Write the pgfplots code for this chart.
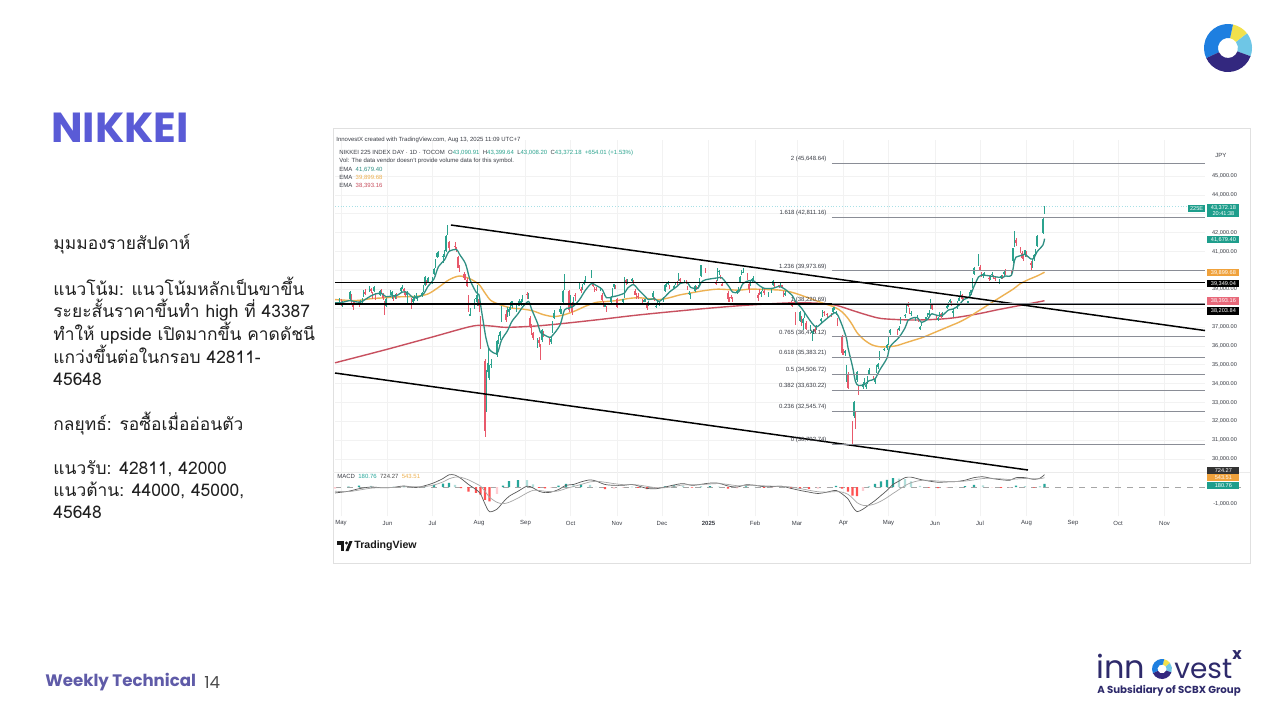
\documentclass[border=0pt]{standalone}
\usepackage{pgfplots}
\pgfplotsset{compat=1.18}
\usepackage{pgfplotstable}
\usepackage{fontspec}
\setmainfont{Liberation Sans}
\newfontfamily\thaifont[Script=Thai]{Loma}
\newfontfamily\pop{Poppins}
\definecolor{upc}{HTML}{2BA38E}
\definecolor{dnc}{HTML}{E8596B}
\definecolor{emag}{HTML}{2F8F83}
\definecolor{emao}{HTML}{EDB152}
\definecolor{emar}{HTML}{C8505F}
\definecolor{fibc}{HTML}{8A8D96}
\definecolor{txtc}{HTML}{3A3D45}
\definecolor{nik}{HTML}{5A5BD6}
\definecolor{wk}{HTML}{5F5BA8}
\definecolor{navy}{HTML}{2E2A6B}
\definecolor{lblue}{HTML}{1E7FE0}
\definecolor{lyel}{HTML}{F2E14C}
\definecolor{lcyan}{HTML}{6EC6E6}
\definecolor{lnavy}{HTML}{33287F}
\definecolor{hA}{HTML}{26A69A}
\definecolor{hB}{HTML}{B2DFDB}
\definecolor{hC}{HTML}{FF5252}
\definecolor{hD}{HTML}{FFCDD2}
\definecolor{lastc}{HTML}{A8E0E6}
\definecolor{boxr}{HTML}{E8697A}
\definecolor{boxo}{HTML}{F0A23C}
\definecolor{boxt}{HTML}{1E9E8C}
\newcommand{\sm}{\fontsize{3}{3.6}\selectfont}

\pgfplotstableread{
d o h l c
-1 38300 38550 38250 38400
0 38300 38500 38100 38270
1 38200 38400 38050 38240
6 38500 38900 38450 38840
7 38700 38750 38150 38200
8 38250 38300 37900 38070
9 38250 38400 38150 38230
12 38300 38350 38050 38180
13 38200 38450 38150 38360
14 38350 38550 38250 38390
15 38650 38950 38600 38920
16 38850 39000 38700 38790
19 38900 39150 38850 39070
20 39000 39050 38800 38950
21 38800 38850 38500 38620
22 38900 39150 38850 39100
23 38750 38800 38450 38650
26 38700 38950 38650 38900
27 38900 39000 38750 38860
28 38750 38800 38450 38560
29 38300 38350 37620 38050
30 38100 38550 38050 38490
33 38800 38950 38700 38920
34 38700 38900 38500 38840
35 38600 38650 38400 38490
36 38600 38750 38500 38700
37 38700 38800 38500 38680
40 38900 39100 38800 39040
41 39100 39250 39000 39130
42 39000 39050 38700 38880
43 38800 38900 38600 38720
44 38700 38900 38250 38810
47 38500 38550 37960 38100
48 38300 38550 38200 38480
49 38500 38700 38400 38570
50 38600 38800 38500 38630
51 38500 38650 38400 38600
54 38700 38850 38600 38800
55 38900 39200 38850 39170
56 39200 39700 39150 39670
57 39400 39500 39200 39340
58 39400 39650 39350 39580
61 39500 39650 39300 39630
62 39800 40100 39750 40070
63 40200 40600 40150 40580
64 40700 40950 40650 40910
65 40900 41000 40700 40910
68 40700 40850 40400 40780
69 40800 41100 40700 40830
70 41000 41850 40950 41830
71 41900 42430 41850 42220
72 41500 41550 41000 41190
76 41300 41500 41150 41280
77 41200 41250 40950 41100
78 40700 40750 40100 40130
79 40200 40300 39900 40060
82 39800 39900 39500 39600
83 39700 39800 39500 39590
84 39500 39600 39100 39150
85 38600 38700 37800 37870
86 37600 38000 37600 37670
89 38000 38500 37950 38470
90 38500 38700 38300 38530
91 38200 39200 38100 39100
92 38500 38600 37800 38130
93 37500 37600 35850 35910
96 35200 35300 31160 31460
97 32800 34700 32500 34680
98 34600 35900 34300 35090
99 34600 35000 34200 34830
100 35000 35300 34800 35030
104 35500 36300 35400 36230
105 36300 36600 36100 36440
106 36500 36800 36300 36730
107 37300 38100 37250 38060
110 37700 37900 37250 37390
111 37600 38050 37550 37960
112 37800 38050 37600 37950
113 38000 38300 37900 38210
114 38100 38400 38000 38360
117 37900 38150 37800 38110
118 38200 38400 38100 38290
119 38300 38500 38100 38370
120 38200 38500 38100 38360
121 38400 38700 38300 38650
124 38750 38850 38500 38700
125 38600 38800 38500 38690
126 37500 37600 36950 37050
127 37000 37150 36600 36660
128 36700 36750 36300 36390
131 36000 36400 35900 36220
132 36300 36450 35950 36160
133 36000 36100 35250 35620
134 36300 36900 36200 36830
135 36700 36800 36450 36580
139 36300 36400 36050 36200
140 36200 36500 36100 36380
141 36800 37300 36700 37160
142 37500 37900 37400 37720
146 37800 38100 37700 37940
147 37800 37950 37700 37870
148 38300 38950 38250 38930
149 39000 39830 38950 39830
152 38900 38950 37800 37920
153 38100 38700 38000 38650
154 38200 38300 37650 37810
155 38200 38600 38100 38550
156 38700 38800 38400 38640
159 39100 39400 39000 39330
160 39000 39100 38800 38940
161 39000 39300 38950 39280
162 39300 39500 39200 39380
163 39500 39700 39400 39610
167 39700 40000 39600 39910
168 39300 39400 39100 39180
169 39000 39100 38850 38910
170 39000 39100 38900 38980
173 38950 39100 38900 38950
174 38700 38800 38350 38410
175 38300 38400 38050 38100
176 38100 38200 38050 38140
177 38000 38100 37800 37910
180 38300 38650 38200 38610
181 38700 39050 38600 39030
182 39100 39300 39000 39280
183 39200 39250 39000 39080
184 38500 38550 38000 38050
188 38300 38500 38200 38470
189 38600 39650 38550 39480
190 39500 39550 39200 39380
191 39400 39550 39300 39500
194 39500 39600 39400 39530
195 39400 39500 39300 39380
196 38900 39000 38700 38720
197 38700 38800 38500 38540
198 38650 38800 38500 38640
201 38400 38500 38200 38220
202 38350 38500 38300 38410
203 38350 38500 38300 38350
204 38200 38300 37900 38030
205 38200 38350 38100 38280
208 38600 38900 38500 38780
209 38500 38600 38400 38440
210 38100 38250 38000 38130
211 38300 38400 38200 38350
212 38200 38300 38100 38210
215 38400 38600 38300 38510
216 38900 39300 38850 39250
217 39200 39350 39100 39280
218 39300 39450 39250 39400
219 39200 39250 39000 39090
222 39100 39200 39000 39160
223 39300 39400 39200 39370
224 39400 39450 39250 39370
225 39500 39850 39450 39850
226 39550 39600 39400 39470
229 39400 39500 39350 39460
230 39400 39500 39300 39360
231 39100 39150 38950 39080
232 38800 38900 38700 38810
233 38600 38800 38500 38700
236 38900 39200 38850 39160
237 39100 39150 38950 39040
238 39100 39200 39050 39130
239 39300 39600 39250 39570
240 39700 40300 39650 40280
243 40100 40150 39850 39890
250 39400 39500 39250 39310
251 39500 40100 39450 40080
252 39900 40000 39750 39980
253 39700 39750 39550 39610
254 39300 39400 39150 39190
258 38800 38900 38300 38470
259 38500 38600 38300 38440
260 38600 38700 38500 38570
261 38500 38600 38300 38450
264 38800 38950 38750 38900
265 39000 39100 38900 39030
266 39400 39700 39350 39650
267 39800 40000 39750 39960
268 39900 40150 39850 39930
271 39800 39850 39500 39570
272 39300 39400 38800 39020
273 39200 39450 39150 39410
274 39500 39600 39400 39510
275 39500 39700 39450 39570
278 38700 38800 38400 38520
279 38900 39000 38700 38800
280 38750 38900 38600 38830
281 39000 39100 38900 39070
282 38900 39000 38700 38790
285 38700 38850 38600 38800
287 38900 39050 38800 38960
288 39200 39500 39150 39460
289 39300 39400 39100 39150
292 39200 39250 39050 39170
293 39200 39350 39150 39270
294 39200 39250 39100 39160
295 38800 38900 38600 38680
296 38700 38900 38650 38780
300 38300 38400 38100 38240
301 38200 38300 38050 38140
302 38300 38400 38150 38260
303 37700 37800 37100 37160
306 37300 37850 37250 37790
307 37500 37600 37050 37330
308 37200 37500 36850 37420
309 37600 37800 37500 37700
310 37200 37300 36850 36890
313 37000 37100 36800 37030
314 36700 36800 36250 36790
315 36800 36900 36650 36820
316 36900 37000 36700 36790
317 36900 37100 36850 37050
320 37300 37450 37200 37400
321 37600 37900 37550 37850
322 37800 37850 37600 37750
324 37700 37750 37500 37680
327 37700 37750 37550 37610
328 37800 38050 37750 38030
329 37950 38050 37900 38030
330 37800 37850 37650 37800
331 37400 37450 37050 37120
334 36500 36550 35520 35620
335 35700 35850 35500 35620
336 35600 35800 35450 35730
337 34700 35000 34100 34740
338 34500 34600 33700 33780
341 31800 32000 30790 31140
342 32300 33100 32200 33010
343 32200 32550 31600 31710
344 34200 34650 34100 34610
345 33700 33900 33400 33590
348 33800 34100 33700 33980
349 34100 34300 33900 34270
350 33800 34000 33700 33920
351 34200 34400 34000 34380
352 34500 34800 34450 34730
355 34300 34400 34200 34280
356 34100 34300 34000 34220
357 34600 35000 34550 34870
358 34900 35100 34750 35040
359 35300 35750 35250 35710
362 35800 35900 35700 35840
364 35900 36100 35800 36050
365 36100 36500 36050 36450
366 36700 36900 36600 36830
371 36800 36900 36600 36780
372 36900 37050 36800 36930
373 37200 37550 37150 37500
376 37600 37700 37500 37640
377 37800 38250 37750 38180
378 38200 38300 38050 38130
379 37900 38000 37700 37750
380 37750 37850 37600 37750
383 37400 37550 37300 37500
384 37500 37650 37450 37530
385 37400 37450 37250 37300
386 36900 37050 36850 36990
387 37100 37250 37050 37160
390 37400 37550 37350 37530
391 37600 37750 37550 37720
392 37700 37900 37600 37720
393 38000 38500 37950 38430
394 38200 38250 37900 37970
397 37600 37650 37400 37470
398 37400 37550 37300 37450
399 37600 37800 37550 37750
400 37700 37750 37500 37550
401 37600 37800 37550 37740
404 38000 38150 37950 38090
405 38100 38300 38050 38210
406 38300 38500 38250 38420
407 38300 38350 38100 38170
408 37800 37950 37550 37830
411 38000 38350 37950 38310
412 38400 38600 38350 38540
413 38700 38900 38600 38890
414 38700 38750 38450 38490
415 38500 38550 38350 38400
418 38300 38400 38200 38350
419 38600 38850 38550 38790
420 38800 38950 38700 38940
421 39100 39600 39050 39580
422 39800 40200 39750 40150
425 40300 40850 40250 40490
426 40200 40300 39950 39990
427 39800 39900 39650 39760
428 39700 39850 39600 39790
429 39800 39900 39700 39810
432 39600 39700 39450 39590
433 39600 39750 39500 39690
434 39800 39900 39700 39820
435 39700 39750 39550 39650
436 39600 39700 39450 39570
439 39400 39550 39300 39460
440 39600 39750 39550 39680
441 39700 39750 39550 39660
442 39800 39950 39700 39900
443 39900 40050 39750 39820
447 39900 40000 39700 39770
448 40500 41200 40400 41170
449 41300 42070 41250 41830
450 41600 41700 41300 41460
453 41200 41250 40900 41000
454 40900 41000 40600 40670
455 40700 40800 40500 40650
456 40800 41100 40700 41070
457 40900 41000 40700 40800
460 40400 40500 40000 40290
461 40300 40600 40150 40550
462 40600 40850 40500 40790
463 40900 41150 40850 41060
464 41300 41850 41250 41820
468 42000 42750 41950 42720
469 43090 43400 43010 43370
}\candles

\pgfplotstableread{
d v
-4 38280
0 38290
6 38400
9 38350
13 38310
16 38450
20 38650
23 38750
27 38780
30 38600
34 38650
37 38660
41 38850
44 38830
48 38560
51 38570
55 38750
58 39150
62 39550
65 40200
69 40550
72 41000
77 41100
79 40850
83 40350
86 39500
90 38850
92 38700
93 38200
96 36700
97 36300
99 35800
104 35600
107 36300
111 36800
114 37300
118 37700
121 38050
125 38350
127 37950
131 37200
133 36700
135 36600
139 36450
141 36550
146 37100
149 37900
152 38000
155 38100
159 38450
163 38950
167 39300
170 39200
174 39000
177 38550
181 38600
184 38650
189 38800
191 39050
195 39250
198 39000
203 38600
205 38450
209 38500
212 38350
216 38600
219 38850
224 39150
226 39300
231 39350
233 39100
238 39050
240 39350
243 39500
251 39600
254 39600
259 39100
261 38850
265 38850
268 39300
272 39450
275 39450
278 39250
282 39050
288 39050
292 39150
296 39000
301 38650
303 38350
307 38000
310 37650
314 37200
317 37000
321 37250
324 37450
329 37750
331 37650
334 37100
337 36400
338 35900
341 34900
343 34100
345 33900
349 33950
352 34150
356 34250
359 34700
364 35350
366 35950
372 36450
376 36950
378 37350
380 37450
384 37500
387 37250
391 37400
393 37650
394 37700
398 37600
401 37620
405 37900
408 37950
412 38150
415 38450
419 38600
422 39150
425 39650
427 39750
432 39710
436 39660
441 39620
443 39700
447 39750
449 40530
450 40700
454 40800
456 40850
460 40600
462 40650
464 40980
468 41350
469 41680
}\emagreen

\pgfplotstableread{
d v
-4 38450
10 38400
20 38500
30 38550
40 38600
50 38620
58 38750
65 39100
72 39500
79 39700
86 39550
92 39250
96 38800
100 38400
107 38150
114 38000
121 37950
128 37850
135 37650
142 37550
149 37650
156 37850
163 38100
170 38300
177 38350
184 38400
191 38500
198 38550
205 38500
212 38450
219 38550
226 38700
233 38800
240 38900
250 39000
258 38980
265 38950
272 39000
278 39000
285 38980
293 38950
300 38850
306 38700
313 38500
320 38300
329 38050
334 37800
338 37450
341 37100
344 36700
349 36300
354 36050
359 35950
364 35950
370 36000
376 36150
382 36300
388 36450
394 36650
400 36850
406 37050
412 37250
418 37500
424 37800
430 38100
436 38400
442 38700
448 39000
453 39300
458 39500
464 39700
469 39900
}\emaorange

\pgfplotstableread{
d v
-4 35100
30 35800
61 36470
88 37050
100 37050
110 36980
130 37050
150 37200
173 37400
200 37650
239 37950
270 38150
301 38280
320 38250
330 38150
340 37900
350 37650
360 37450
375 37380
386 37370
400 37420
410 37500
425 37700
437 37900
450 38100
460 38250
469 38390
}\emared

\pgfplotstableread{
d m s
-4 -350 -250
5 -250 -270
12 -100 -180
20 0 -70
28 -50 -30
35 -20 -30
42 60 20
50 -30 10
56 80 30
62 250 120
68 500 300
72 720 480
76 700 580
80 500 570
85 150 420
90 -150 200
93 -400 50
96 -1000 -250
99 -1450 -600
104 -1300 -900
108 -900 -980
112 -550 -900
118 -250 -650
124 50 -350
128 -50 -200
132 -250 -200
136 -330 -250
140 -300 -270
145 -150 -230
150 100 -90
155 150 30
160 300 150
166 420 300
170 350 340
176 150 280
182 100 200
188 100 140
194 150 140
198 70 120
204 -80 40
210 -100 -40
216 0 -40
222 120 30
228 200 120
234 100 130
240 160 140
246 230 180
252 220 200
258 60 150
264 0 80
270 130 90
276 100 100
282 20 70
288 30 50
294 40 40
300 -80 0
306 -200 -90
312 -300 -190
318 -380 -280
324 -300 -300
330 -200 -270
334 -400 -300
338 -700 -430
341 -1150 -650
344 -1450 -920
348 -1300 -1080
352 -1050 -1080
356 -800 -990
360 -500 -830
364 -200 -620
368 150 -380
372 350 -150
376 550 80
380 580 250
386 450 380
392 350 390
398 280 350
404 300 330
410 320 320
416 400 350
422 550 420
428 600 500
434 500 510
440 430 480
446 400 440
450 550 470
456 550 500
462 450 480
466 520 490
469 724 544
}\macd

\pgfplotstableread{
d v k
-4 -100 3
5 20 0
12 80 0
20 70 1
28 -20 2
35 10 0
42 40 0
50 -40 2
56 50 0
62 130 0
68 200 0
72 240 0
76 120 1
80 -70 2
85 -270 2
90 -350 2
93 -450 2
96 -750 2
99 -850 2
104 -400 3
108 80 0
112 350 0
118 400 0
124 400 1
128 150 1
132 -50 2
136 -80 2
140 -30 3
145 80 0
150 190 0
155 120 1
160 150 0
166 120 1
170 10 1
176 -130 2
182 -100 3
188 -40 3
194 10 0
198 -50 2
204 -120 2
210 -60 3
216 40 0
222 90 0
228 80 1
234 -30 2
240 20 0
246 50 0
252 20 1
258 -90 2
264 -80 3
270 40 0
276 5 1
282 -50 2
288 -20 3
294 5 1
300 -80 2
306 -110 2
312 -110 2
318 -100 3
324 -10 3
330 70 0
334 -100 2
338 -270 2
341 -500 2
344 -530 2
348 -220 3
352 30 0
356 190 0
360 330 0
364 420 0
368 530 0
372 500 1
376 470 1
380 330 1
386 70 1
392 -40 2
398 -70 2
404 -30 3
410 5 1
416 50 0
422 130 0
428 100 1
434 -10 2
440 -50 2
446 -40 3
450 80 0
456 50 1
462 -30 2
466 30 0
469 180 0
}\hist

\tikzset{vbox/.style={anchor=west, minimum width=16pt, minimum height=3.6pt, inner sep=0pt, font=\fontsize{2.8}{3}\selectfont, text=white}}

\begin{document}
\begin{tikzpicture}[x=0.5pt,y=-0.5pt]
\fill[white] (0,0) rectangle (1280,720);
\useasboundingbox (0,0) rectangle (1280,720);

% ---- left slide text ----
\node[anchor=west, inner sep=0pt, text=nik, font=\pop\bfseries\fontsize{21}{24}\selectfont] at (51,128) {NIKKEI};
\begin{scope}[every node/.style={anchor=base west, inner sep=0pt, text={black!88}, font=\thaifont\fontsize{8.7}{10}\selectfont}]
\node at (53,249) {มุมมองรายสัปดาห์};
\node at (53,295) {แนวโน้ม: แนวโน้มหลักเป็นขาขึ้น};
\node at (53,317) {ระยะสั้นราคาขึ้นทำ high ที่ 43387};
\node at (53,340) {ทำให้ upside เปิดมากขึ้น คาดดัชนี};
\node at (53,363) {แกว่งขึ้นต่อในกรอบ 42811-};
\node at (53,385) {45648};
\node at (53,430) {กลยุทธ์: รอซื้อเมื่ออ่อนตัว};
\node at (53,474) {แนวรับ: 42811, 42000};
\node at (53,496) {แนวต้าน: 44000, 45000,};
\node at (53,518) {45648};
\end{scope}

\node[anchor=west, inner sep=0pt, text=wk, font=\pop\bfseries\fontsize{8.3}{10}\selectfont] at (45,682) {Weekly Technical};
\node[anchor=west, inner sep=0pt, text=black!70, font=\pop\fontsize{8.3}{10}\selectfont] at (204,682) {14};

% top-right donut logo
\foreach \a/\b/\col in {-38/20/lcyan, -78/-38/lyel, -205/-78/lblue, 20/155/lnavy}{
  \fill[\col] ([shift={(1228,48)}]\a:24) arc[start angle=\a, end angle=\b, radius=24] -- ([shift={(1228,48)}]\b:10) arc[start angle=\b, end angle=\a, radius=10] -- cycle;
}

% innovestX logo
\node[anchor=base west, inner sep=0pt, text=navy, font=\pop\fontsize{16}{18}\selectfont] at (1096,678) {inn};
\foreach \a/\b/\col in {-38/20/lcyan, -78/-38/lyel, -205/-78/lblue, 20/155/lnavy}{
  \fill[\col] ([shift={(1162,669)}]\a:10) arc[start angle=\a, end angle=\b, radius=10] -- ([shift={(1162,669)}]\b:4.5) arc[start angle=\b, end angle=\a, radius=4.5] -- cycle;
}
\node[anchor=base west, inner sep=0pt, text=navy, font=\pop\fontsize{14}{18}\selectfont] at (1174,678) {vest};
\node[anchor=base west, inner sep=0pt, text=navy, font=\pop\bfseries\fontsize{8}{10}\selectfont] at (1232,659) {x};
\node[anchor=west, inner sep=0pt, text=navy, font=\pop\bfseries\fontsize{5.1}{6}\selectfont] at (1097,691) {A Subsidiary of SCBX Group};

% ---- chart panel ----
\draw[black!12, line width=0.5pt] (333,128) rectangle (1250,563);
\draw[black!8, line width=0.4pt] (333,472) -- (1250,472);

\begin{axis}[
  at={(167.5pt,-236pt)}, anchor=south west, scale only axis,
  width=435pt, height=166pt,
  xmin=-4, xmax=576, ymin=29312, ymax=46908,
  axis line style={draw=none}, major tick length=0pt,
  xtick={0,31,61,92,123,153,184,214,245,276,304,335,365,396,426,457,488,518,549},
  xticklabels={},
  ytick={30000,31000,32000,33000,34000,35000,36000,37000,39000,41000,42000,44000,45000},
  extra y ticks={38000,40000,43000}, extra y tick labels={},
  extra y tick style={grid=major, major tick length=0pt},
  scaled y ticks=false,
  grid=major, grid style={black!5, line width=0.3pt},
  yticklabel pos=right,
  yticklabel style={anchor=east, xshift=19.5pt, font=\fontsize{2.8}{3}\selectfont, text=txtc,
    /pgf/number format/.cd, fixed, fixed zerofill, precision=2, 1000 sep={,}, assume math mode=true},
  clip=false,
]
% last price line
\addplot[lastc, densely dotted, line width=0.4pt, forget plot] coordinates {(-4,43372.18) (576,43372.18)};
% EMAs
\addplot[emar, line width=0.7pt, smooth, forget plot] table[x=d, y=v] \emared;
\addplot[emao, line width=0.7pt, smooth, forget plot] table[x=d, y=v] \emaorange;
% candles: wicks and bodies
\addplot[draw=none, mark=none, forget plot, error bars/.cd, y dir=both, y explicit, error mark=none, error bar style={draw=upc, line width=0.3pt}]
  table[x=d, y expr={\thisrow{c}>=\thisrow{o} ? 0.5*(\thisrow{h}+\thisrow{l}) : nan}, y error expr={0.5*(\thisrow{h}-\thisrow{l})}] \candles;
\addplot[draw=none, mark=none, forget plot, error bars/.cd, y dir=both, y explicit, error mark=none, error bar style={draw=dnc, line width=0.3pt}]
  table[x=d, y expr={\thisrow{c}<\thisrow{o} ? 0.5*(\thisrow{h}+\thisrow{l}) : nan}, y error expr={0.5*(\thisrow{h}-\thisrow{l})}] \candles;
\addplot[draw=none, mark=none, forget plot, error bars/.cd, y dir=both, y explicit, error mark=none, error bar style={draw=upc, line width=0.65pt}]
  table[x=d, y expr={\thisrow{c}>=\thisrow{o} ? 0.5*(\thisrow{o}+\thisrow{c}) : nan}, y error expr={max(0.5*abs(\thisrow{c}-\thisrow{o}),15)}] \candles;
\addplot[draw=none, mark=none, forget plot, error bars/.cd, y dir=both, y explicit, error mark=none, error bar style={draw=dnc, line width=0.65pt}]
  table[x=d, y expr={\thisrow{c}<\thisrow{o} ? 0.5*(\thisrow{o}+\thisrow{c}) : nan}, y error expr={max(0.5*abs(\thisrow{c}-\thisrow{o}),15)}] \candles;
\addplot[emag, line width=0.65pt, smooth, forget plot] table[x=d, y=v] \emagreen;
% horizontal levels and trend lines
\addplot[black, line width=0.75pt, forget plot] coordinates {(-4,39349.04) (576,39349.04)};
\addplot[black, line width=0.75pt, forget plot] coordinates {(-4,38203.84) (576,38203.84)};
\addplot[black, line width=0.75pt, forget plot] coordinates {(73.3,42403) (576,36810)};
\addplot[black, line width=0.75pt, forget plot] coordinates {(-4,34559) (458,29418)};
% fibonacci extension levels
\foreach \v/\t in {45648.64/{2 (45,648.64)}, 42811.16/{1.618 (42,811.16)}, 39973.69/{1.236 (39,973.69)}, 38220.69/{1 (38,220.69)}, 36475.12/{0.765 (36,475.12)}, 35383.21/{0.618 (35,383.21)}, 34506.72/{0.5 (34,506.72)}, 33630.22/{0.382 (33,630.22)}, 32545.74/{0.236 (32,545.74)}, 30792.74/{0 (30,792.74)}}{
  \edef\temp{\noexpand\addplot[fibc, line width=0.45pt, forget plot] coordinates {(327.3,\v) (576,\v)};
    \noexpand\node[anchor=south east, inner sep=0.6pt, font=\noexpand\sm, text=txtc] at (axis cs:324.7,\v) {\t};}
  \temp
}
\end{axis}

\begin{axis}[
  at={(167.5pt,-258pt)}, anchor=south west, scale only axis,
  width=435pt, height=22pt,
  xmin=-4, xmax=576, ymin=-1706, ymax=882,
  axis line style={draw=none}, major tick length=0pt,
  xtick={0,31,61,92,123,153,184,214,245,276,304,335,365,396,426,457,488,518,549},
  xticklabels={May,Jun,Jul,Aug,Sep,Oct,Nov,Dec,\textbf{2025},Feb,Mar,Apr,May,Jun,Jul,Aug,Sep,Oct,Nov},
  xticklabel style={anchor=center, yshift=-3.5pt, font=\sm, text=txtc},
  ytick={-1000}, scaled y ticks=false,
  xmajorgrids, grid style={black!5, line width=0.3pt},
  yticklabel pos=right,
  yticklabel style={anchor=east, xshift=19.5pt, font=\fontsize{2.8}{3}\selectfont, text=txtc,
    /pgf/number format/.cd, fixed, fixed zerofill, precision=2, 1000 sep={,}, assume math mode=true},
  clip=false,
]
\addplot[black!35, dashed, line width=0.3pt, forget plot] coordinates {(-4,0) (600,0)};
\addplot[ybar, bar width=1.2pt, bar shift=0pt, fill=hA, draw=none, forget plot] table[x=d, y expr={\thisrow{k}==0 ? \thisrow{v} : nan}] \hist;
\addplot[ybar, bar width=1.2pt, bar shift=0pt, fill=hB, draw=none, forget plot] table[x=d, y expr={\thisrow{k}==1 ? \thisrow{v} : nan}] \hist;
\addplot[ybar, bar width=1.2pt, bar shift=0pt, fill=hC, draw=none, forget plot] table[x=d, y expr={\thisrow{k}==2 ? \thisrow{v} : nan}] \hist;
\addplot[ybar, bar width=1.2pt, bar shift=0pt, fill=hD, draw=none, forget plot] table[x=d, y expr={\thisrow{k}==3 ? \thisrow{v} : nan}] \hist;
\addplot[black!65, line width=0.35pt, smooth, forget plot] table[x=d, y=m] \macd;
\addplot[black!35, line width=0.35pt, smooth, forget plot] table[x=d, y=s] \macd;
\end{axis}

% ---- chart header texts ----
\begin{scope}[every node/.style={anchor=west, inner sep=0pt, font=\sm, text=txtc}]
\node at (336,140) {InnovestX created with TradingView.com, Aug 13, 2025 11:09 UTC+7};
\node at (339,153) {NIKKEI 225 INDEX DAY · 1D · TOCOM\ \ O\textcolor{upc}{43,090.91}\ \ H\textcolor{upc}{43,399.64}\ \ L\textcolor{upc}{43,008.20}\ \ C\textcolor{upc}{43,372.18}\ \ \textcolor{upc}{+654.01 (+1.53\%)}};
\node at (339,161) {Vol: The data vendor doesn't provide volume data for this symbol.};
\node at (339,170) {EMA\ \ \textcolor{emag}{41,679.40}};
\node at (339,178) {EMA\ \ \textcolor{emao}{39,899.68}};
\node at (339,186) {EMA\ \ \textcolor{emar}{38,393.16}};
\node at (337,476) {MACD\ \ \textcolor{hA}{180.76}\ \ \textcolor{black!70}{724.27}\ \ \textcolor{emao}{543.51}};
\node at (1215,155) {JPY};
\end{scope}

% ---- price-scale value boxes ----
\node[vbox, anchor=east, minimum width=8.5pt, fill=boxt] at (1205.5,208.5) {225E};
\node[vbox, fill=boxt, minimum height=6.5pt, align=center] at (1207,210.5) {43,372.18\\[-0.3pt]20:41:38};
\node[vbox, fill=boxt] at (1207,239.5) {41,679.40};
\node[vbox, fill=boxo] at (1207,272.5) {39,899.68};
\node[vbox, fill=black] at (1207,283.5) {39,349.04};
\node[vbox, fill=boxr] at (1207,301) {38,393.16};
\node[vbox, fill=black] at (1207,311) {38,203.84};
\node[vbox, fill=black!80] at (1207,471) {724.27};
\node[vbox, fill=boxo] at (1207,477.5) {543.51};
\node[vbox, fill=boxt] at (1207,485.5) {180.76};

% TradingView logo
\fill[black!90] (337,541) rectangle (344,544.5);
\fill[black!90] (340.5,544.5) rectangle (344,551);
\fill[black!90] (346.5,543) circle[radius=1.7];
\fill[black!90] (345.5,551) -- (349.5,541) -- (352.5,541) -- (348.5,551) -- cycle;
\node[anchor=west, inner sep=0pt, font=\bfseries\fontsize{5.3}{6}\selectfont, text=black!90] at (354,546) {TradingView};
\end{tikzpicture}
\end{document}
